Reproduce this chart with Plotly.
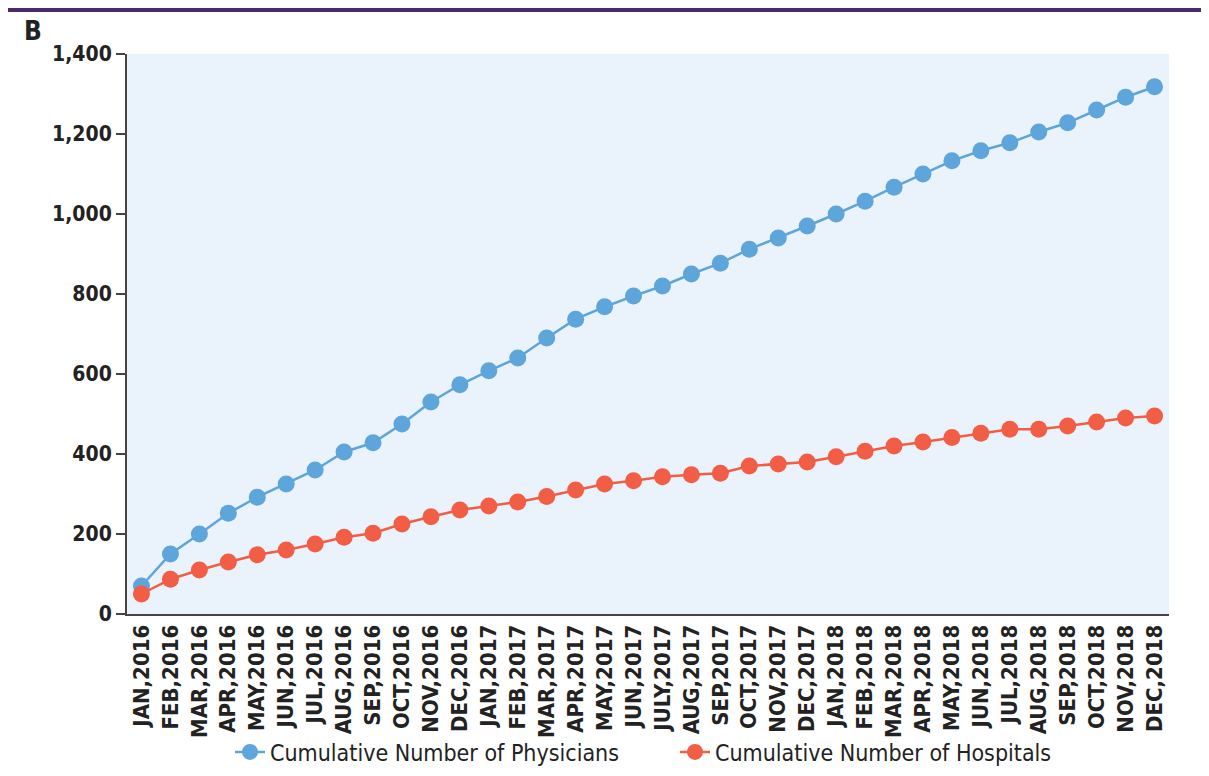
import plotly.graph_objects as go

months = ["JAN,2016", "FEB,2016", "MAR,2016", "APR,2016", "MAY,2016", "JUN,2016",
          "JUL,2016", "AUG,2016", "SEP,2016", "OCT,2016", "NOV,2016", "DEC,2016",
          "JAN,2017", "FEB,2017", "MAR,2017", "APR,2017", "MAY,2017", "JUN,2017",
          "JULY,2017", "AUG,2017", "SEP,2017", "OCT,2017", "NOV,2017", "DEC,2017",
          "JAN,2018", "FEB,2018", "MAR,2018", "APR,2018", "MAY,2018", "JUN,2018",
          "JUL,2018", "AUG,2018", "SEP,2018", "OCT,2018", "NOV,2018", "DEC,2018"]

physicians = [70, 150, 200, 252, 292, 325, 360, 405, 428, 475, 530, 573,
              608, 640, 690, 737, 768, 795, 820, 850, 877, 912, 940, 970,
              1000, 1032, 1067, 1100, 1133, 1158, 1178, 1205, 1228, 1260, 1292, 1318]

hospitals = [50, 87, 110, 130, 148, 160, 175, 192, 202, 225, 243, 260,
             270, 280, 294, 310, 325, 333, 343, 348, 352, 370, 375, 380,
             393, 407, 420, 430, 441, 452, 462, 462, 470, 480, 490, 495]

y_ticks = [0, 200, 400, 600, 800, 1000, 1200, 1400]

FONT = "DejaVu Sans Condensed, Liberation Sans Narrow, Arial Narrow, sans-serif"
BLUE = "#5DA5DA"
RED = "#F15E45"
TXT = "#222222"

fig = go.Figure()
fig.add_trace(go.Scatter(
    x=months, y=physicians, mode="lines+markers",
    name="Cumulative Number of Physicians",
    line=dict(color=BLUE, width=2.5),
    marker=dict(color=BLUE, size=17),
))
fig.add_trace(go.Scatter(
    x=months, y=hospitals, mode="lines+markers",
    name="Cumulative Number of Hospitals",
    line=dict(color=RED, width=2.5),
    marker=dict(color=RED, size=17),
))

# figure sits at (8, 8) in the page because of the default body margin
PLOT_H = 560
PLOT_W = 1042
fig.update_layout(
    width=1193, height=760,
    margin=dict(l=119, r=32, t=46, b=154, autoexpand=False),
    paper_bgcolor="white",
    plot_bgcolor="#EAF2FB",
    font=dict(family=FONT, color=TXT, size=20),
    showlegend=True,
    legend=dict(orientation="h", x=(236 - 8 - 119 - 6) / PLOT_W, xanchor="left",
                y=(PLOT_H - 698) / PLOT_H, yanchor="middle",
                bgcolor="rgba(0,0,0,0)",
                font=dict(size=23, family=FONT, color=TXT),
                traceorder="normal", entrywidth=400),
    xaxis=dict(
        type="category", range=[-0.5, 35.5], automargin=False,
        tickangle=-90, tickfont=dict(size=22, family=FONT, color=TXT, weight="bold"),
        showgrid=False, zeroline=False,
        showline=True, linecolor="#444444", linewidth=2,
        ticks="", ticklen=0,
    ),
    yaxis=dict(
        range=[0, 1400], tickvals=y_ticks, tickformat=",", automargin=False,
        tickfont=dict(size=21, family=FONT, color=TXT, weight="bold"),
        showgrid=False, zeroline=False,
        showline=True, linecolor="#444444", linewidth=2,
        ticks="outside", ticklen=9, tickwidth=2, tickcolor="#444444",
    ),
    shapes=[dict(type="rect", xref="paper", yref="paper",
                 x0=-119 / PLOT_W, x1=1 + 32 / PLOT_W,
                 y0=1 + 42 / PLOT_H, y1=1 + 46 / PLOT_H,
                 fillcolor="#4B2A6B", line=dict(width=0), layer="above")],
    annotations=[dict(text="<b>B</b>", xref="paper", yref="paper",
                      x=-105 / PLOT_W, y=1 + 23 / PLOT_H, xanchor="left", yanchor="middle",
                      showarrow=False, font=dict(size=26, family=FONT, color=TXT))],
)

fig.write_html("out.html")
